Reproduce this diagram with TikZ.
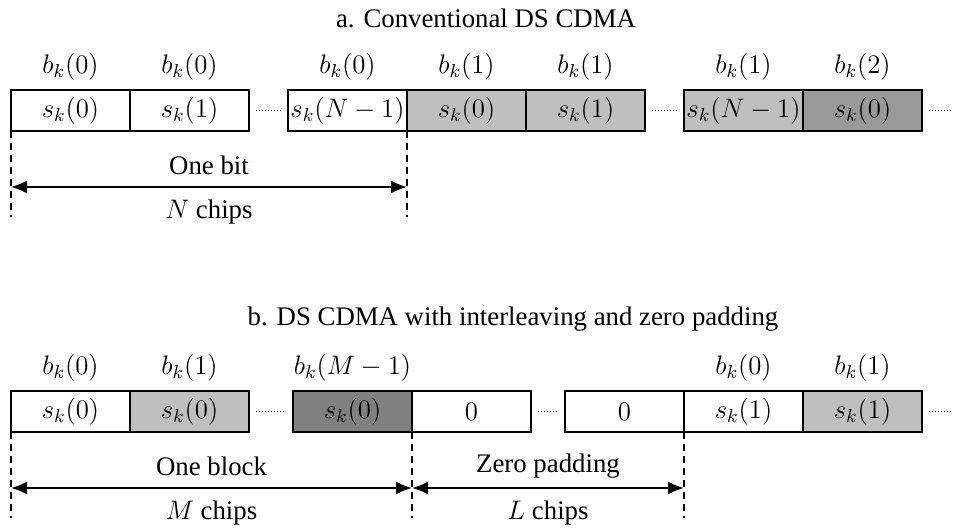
\RequirePackage{fix-cm}
\documentclass[tikz,border=0pt]{standalone}
\usepackage[no-math]{fontspec}
\setmainfont{Liberation Serif}
\usetikzlibrary{arrows.meta}
\newcommand\figfont{\fontsize{13.4pt}{16pt}\selectfont}
\definecolor{chipLight}{gray}{0.75}
\definecolor{chipDarkA}{gray}{0.60}
\definecolor{chipDarkB}{gray}{0.50}
\begin{document}
\begin{tikzpicture}[x=0.5pt, y=-0.5pt,
  chip/.style={draw, line width=1pt, fill=white, minimum width=59.5pt,
    minimum height=20.5pt, inner sep=0pt, outer sep=0pt, anchor=north west, font=\figfont},
  lbl/.style={inner sep=0pt, font=\figfont},
  ttl/.style={inner sep=0pt, font=\figfont},
  gap/.style={line width=0.6pt, dash pattern=on 0.6pt off 0.9pt, shorten <=3.5pt, shorten >=3.5pt},
  guide/.style={line width=0.8pt, dash pattern=on 3.5pt off 2.5pt},
  span/.style={line width=0.9pt, {Latex[length=8pt,width=6.5pt]}-{Latex[length=8pt,width=6.5pt]}}
]
\useasboundingbox (0,0) rectangle (954,528);

% ---------- a. Conventional DS CDMA ----------
\node[ttl] (titleA) at (486,18) {a. Conventional DS CDMA};

\node[chip] (a1) at (11,90) {$s_k(0)$};
\node[chip] (a2) at (a1.north east) {$s_k(1)$};
\node[chip] (a3) at (288,90) {$s_k(N-1)$};
\node[chip, fill=chipLight] (a4) at (a3.north east) {$s_k(0)$};
\node[chip, fill=chipLight] (a5) at (a4.north east) {$s_k(1)$};
\node[chip, fill=chipLight] (a6) at (684,90) {$s_k(N-1)$};
\node[chip, fill=chipDarkA] (a7) at (a6.north east) {$s_k(0)$};
\coordinate (aEnd) at (951,110.5);

\draw[gap] (a2.east) -- (a3.west);
\draw[gap] (a5.east) -- (a6.west);
\draw[gap, shorten >=0pt] (a7.east) -- (aEnd);

\foreach \b/\t in {a1/0, a2/0, a3/0, a4/1, a5/1, a6/1, a7/2}
  \node[lbl] (lbl-\b) at ([yshift=11.5pt]\b.north) {$b_k(\t)$};

\coordinate (aGuide) at (0,217);
\coordinate (aSpan) at (0,187);
\draw[guide] (a1.south west) -- (a1.south west |- aGuide);
\draw[guide] (a3.south east) -- (a3.south east |- aGuide);
\draw[span] (a1.south west |- aSpan) -- (a3.south east |- aSpan)
  node[lbl, midway, yshift=11pt] (oneBit) {One bit}
  node[lbl, midway, yshift=-12.5pt] (nChips) {$N$ chips};

% ---------- b. DS CDMA with interleaving and zero padding ----------
\node[ttl] (titleB) at (513,319) {b. DS CDMA with interleaving and zero padding};

\node[chip] (b1) at (11,391) {$s_k(0)$};
\node[chip, fill=chipLight] (b2) at (b1.north east) {$s_k(0)$};
\node[chip, fill=chipDarkB] (b3) at (293,391) {$s_k(0)$};
\node[chip] (b4) at (b3.north east) {$0$};
\node[chip] (b5) at (565,391) {$0$};
\node[chip] (b6) at (b5.north east) {$s_k(1)$};
\node[chip, fill=chipLight] (b7) at (b6.north east) {$s_k(1)$};
\coordinate (bEnd) at (951,411.5);

\draw[gap] (b2.east) -- (b3.west);
\draw[gap] (b4.east) -- (b5.west);
\draw[gap, shorten >=0pt] (b7.east) -- (bEnd);

\foreach \b/\t in {b1/0, b2/1, b3/M-1, b6/0, b7/1}
  \node[lbl] (lbl-\b) at ([yshift=11.5pt]\b.north) {$b_k(\t)$};

\coordinate (bGuide) at (0,518);
\coordinate (bSpan) at (0,488);
\draw[guide] (b1.south west) -- (b1.south west |- bGuide);
\draw[guide] (b3.south east) -- (b3.south east |- bGuide);
\draw[guide] (b5.south east) -- (b5.south east |- bGuide);
\draw[span] (b1.south west |- bSpan) -- (b3.south east |- bSpan)
  node[lbl, midway, yshift=11pt] (oneBlock) {One block}
  node[lbl, midway, yshift=-12.5pt] (mChips) {$M$ chips};
\draw[span] (b3.south east |- bSpan) -- (b5.south east |- bSpan)
  node[lbl, midway, yshift=11pt] (zeroPad) {Zero padding}
  node[lbl, midway, yshift=-12.5pt] (lChips) {$L$ chips};
\end{tikzpicture}
\end{document}
